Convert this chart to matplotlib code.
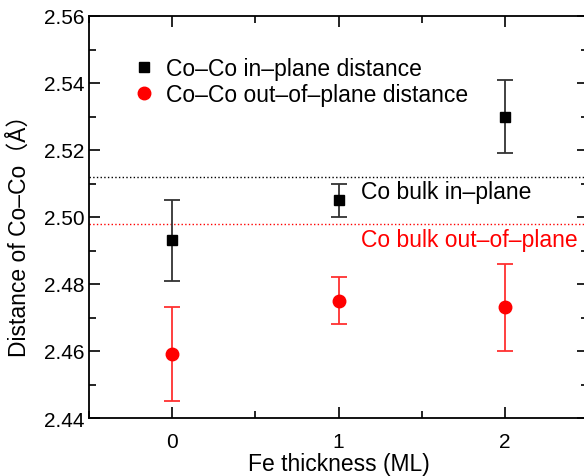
import matplotlib
matplotlib.use("Agg")
import matplotlib.pyplot as plt
from matplotlib.ticker import MultipleLocator, FormatStrFormatter

plt.rcParams['font.family'] = ['Liberation Sans', 'Noto Sans CJK JP']

fe_thickness = [0, 1, 2]
inplane = [2.493, 2.505, 2.530]
inplane_err = [0.012, 0.005, 0.011]
outplane = [2.459, 2.475, 2.473]
outplane_err = [0.014, 0.007, 0.013]
bulk_inplane = 2.512
bulk_outplane = 2.498

fig = plt.figure(figsize=(5.84, 4.77), dpi=100)
ax = fig.add_axes([89/584, 58/477, 499/584, 402/477])

ax.axhline(bulk_inplane, color='black', ls=':', lw=1)
ax.axhline(bulk_outplane, color='red', ls=':', lw=1)

# error bars first, markers on top
ax.errorbar(fe_thickness, inplane, yerr=inplane_err, fmt='none',
            ecolor='#333333', capsize=6, elinewidth=1.3, capthick=1.3)
ax.errorbar(fe_thickness, outplane, yerr=outplane_err, fmt='none',
            ecolor='#ff3030', capsize=6, elinewidth=1.3, capthick=1.3)
ax.plot(fe_thickness, inplane, 's', color='black', ms=7.5,
        label='Co\u2013Co in\u2013plane distance')
ax.plot(fe_thickness, outplane, 'o', color='red', ms=9,
        label='Co\u2013Co out\u2013of\u2013plane distance')

ax.text(1.135, 2.5075, 'Co bulk in\u2013plane', fontsize=16.5, va='center', color='black')
ax.text(1.135, 2.4934, 'Co bulk out\u2013of\u2013plane', fontsize=16.5, va='center', color='red')

ax.set_xlim(-0.5, 2.5)
ax.set_ylim(2.44, 2.56)
ax.xaxis.set_major_locator(MultipleLocator(1))
ax.xaxis.set_minor_locator(MultipleLocator(0.5))
ax.yaxis.set_major_locator(MultipleLocator(0.02))
ax.yaxis.set_minor_locator(MultipleLocator(0.01))
ax.yaxis.set_major_formatter(FormatStrFormatter('%.2f'))
ax.tick_params(which='both', direction='in', top=True, right=True, width=1.2, labelsize=15)
ax.tick_params(which='major', length=8)
ax.tick_params(which='minor', length=5)
ax.tick_params(axis='x', pad=10)
ax.tick_params(axis='y', pad=3)
for s in ax.spines.values():
    s.set_linewidth(1.3)

ax.set_xlabel('Fe thickness (ML)', fontsize=16.5, labelpad=1)
ax.set_ylabel('Distance of Co\u2013Co\uff08\u00c5\uff09', fontsize=16.5)
ax.yaxis.set_label_coords(-0.116, 0.47)

ax.legend(loc='upper left', bbox_to_anchor=(0.068, 0.922), frameon=False, fontsize=16.5,
          handlelength=1.0, handletextpad=0.5, borderaxespad=0, labelspacing=0.17)

fig.savefig('out.png', dpi=100)
